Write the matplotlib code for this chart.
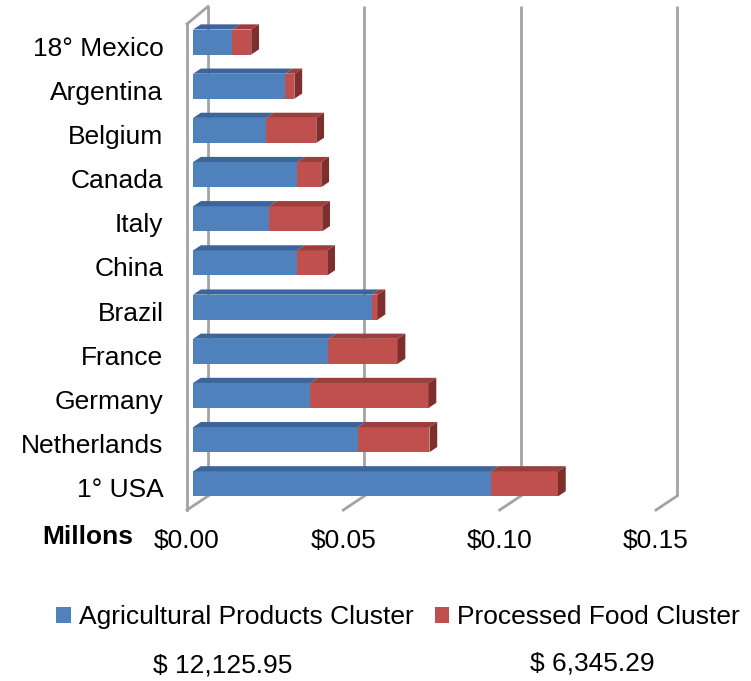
import numpy as np
import matplotlib.pyplot as plt
from matplotlib.patches import Polygon, Patch

plt.rcParams['font.family'] = ['Liberation Sans', 'DejaVu Sans']

# data (millions), bottom to top
countries = ['1° USA', 'Netherlands', 'Germany', 'France', 'Brazil', 'China',
             'Italy', 'Canada', 'Belgium', 'Argentina', '18° Mexico']
agri = [0.0952, 0.0526, 0.0375, 0.0433, 0.0571, 0.0333,
        0.0244, 0.0333, 0.0234, 0.0295, 0.0125]
processed = [0.0215, 0.0230, 0.0378, 0.0221, 0.0019, 0.0096,
             0.0169, 0.0077, 0.0160, 0.0029, 0.0061]
series_names = ['Agricultural Products Cluster', 'Processed Food Cluster']
ticks = [0.0, 0.05, 0.10, 0.15]
tick_labels = ['$0.00', '$0.05', '$0.10', '$0.15']
totals = ['$ 12,125.95', '$ 6,345.29']

blue = ('#4F81BD', '#3C669B', '#34588A')
red = ('#C0504D', '#9C3E3B', '#7E2F2D')
grid_col = '#A3A3A3'

fig = plt.figure(figsize=(7.51, 6.81), dpi=100)
ax = fig.add_axes([187/751, 171/681, 469/751, 486/681])
ax.set_xlim(0, 0.15)
ax.set_ylim(-0.5, 10.5)

# 3d depth vector in data units
DX = 21/3127
DY = 14/44.2

def pt(x, y, d):
    return (x + d*DX, y + d*DY)

def face(pts, color, z):
    ax.add_patch(Polygon(pts, closed=True, fc=color, ec='none', clip_on=False, zorder=z))

# walls / gridlines
for v in ticks:
    ax.plot([v + DX, v + DX], [-0.5 + DY, 10.5 + DY + 0.08], color=grid_col, lw=2,
            clip_on=False, zorder=1, solid_capstyle='butt')
    ax.plot([v, v + DX], [-0.5, -0.5 + DY], color=grid_col, lw=2, clip_on=False, zorder=1)
ax.plot([0, 0], [-0.5, 10.5], color=grid_col, lw=2, clip_on=False, zorder=1)
ax.plot([0, DX], [10.5, 10.5 + DY + 0.08], color=grid_col, lw=2, clip_on=False, zorder=1)

# bars
h = 0.283
f0, f1 = 0.29, 0.66
for i in range(len(countries)):
    left = 0
    segs = [(agri[i], blue), (processed[i], red)]
    for k, (val, cols) in enumerate(segs):
        x0, x1 = left, left + val
        face([pt(x0, i - h, f0), pt(x1, i - h, f0), pt(x1, i + h, f0), pt(x0, i + h, f0)], cols[0], 3)
        face([pt(x0, i + h, f0), pt(x1, i + h, f0), pt(x1, i + h, f1), pt(x0, i + h, f1)], cols[1], 3)
        if k == len(segs) - 1:
            face([pt(x1, i - h, f0), pt(x1, i + h, f0), pt(x1, i + h, f1), pt(x1, i - h, f1)], cols[2], 3)
        left = x1

ax.set_yticks(range(len(countries)), countries)
ax.set_xticks(ticks, tick_labels)
ax.tick_params(axis='y', length=0, pad=17, labelsize=19)
ax.tick_params(axis='x', length=0, pad=14, labelsize=19)
for s in ax.spines.values():
    s.set_visible(False)

fig.text(87.5/751, 1 - 537/681, 'Millons', fontsize=19, fontweight='bold', ha='center', va='center')

handles = [Patch(fc=blue[0]), Patch(fc=red[0])]
fig.legend(handles, series_names, loc='center', bbox_to_anchor=(398/751, 1 - 617/681), ncol=2,
           frameon=False, fontsize=19, handlelength=0.55, handleheight=0.55,
           handletextpad=0.3, columnspacing=0.8, borderpad=0)

fig.text(223/751, 1 - 665/681, totals[0], fontsize=19, ha='center', va='center')
fig.text(592/751, 1 - 663/681, totals[1], fontsize=19, ha='center', va='center')

fig.savefig('out.png', dpi=100)
